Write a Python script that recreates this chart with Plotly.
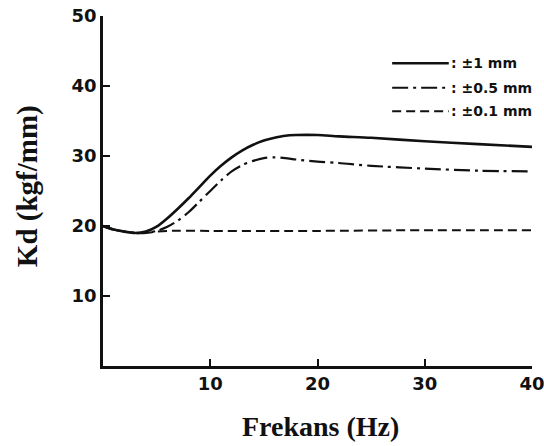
import plotly.graph_objects as go

# Data
freq_1mm = [0, 1, 2, 3, 4, 5, 6, 7, 8, 9, 10, 11, 12, 13, 14, 15, 16, 17, 18, 20, 22, 25, 30, 35, 40]
kd_1mm = [20.0, 19.5, 19.2, 19.0, 19.2, 19.9, 21.1, 22.5, 24.0, 25.6, 27.2, 28.6, 29.8, 30.8, 31.6,
          32.2, 32.6, 32.9, 33.0, 33.0, 32.8, 32.6, 32.1, 31.7, 31.3]

freq_05mm = [0, 1, 2, 3, 4, 5, 6, 7, 8, 9, 10, 11, 12, 13, 14, 15, 16, 17, 18, 20, 22, 25, 30, 35, 40]
kd_05mm = [20.0, 19.5, 19.2, 19.0, 19.0, 19.3, 19.9, 20.8, 22.0, 23.5, 25.0, 26.5, 27.8, 28.7, 29.3,
           29.7, 29.8, 29.7, 29.5, 29.2, 29.0, 28.6, 28.2, 27.9, 27.8]

freq_01mm = [0, 1, 2, 3, 4, 5, 6, 10, 20, 30, 40]
kd_01mm = [20.0, 19.5, 19.2, 19.0, 19.0, 19.2, 19.3, 19.3, 19.3, 19.4, 19.4]

series_names = [": \u00b11 mm", ": \u00b10.5 mm", ": \u00b10.1 mm"]
x_ticks = [10, 20, 30, 40]
y_ticks = [10, 20, 30, 40, 50]

ink = "#111111"
dash_styles = ["solid", "16px,5px,3px,5px", "9px,5px"]
widths = [2.6, 2.2, 2.0]

fig = go.Figure()
for xs, ys, name, dash, w in [
    (freq_01mm, kd_01mm, series_names[2], dash_styles[2], widths[2]),
    (freq_05mm, kd_05mm, series_names[1], dash_styles[1], widths[1]),
    (freq_1mm, kd_1mm, series_names[0], dash_styles[0], widths[0]),
]:
    fig.add_trace(go.Scatter(x=xs, y=ys, mode="lines", name=name,
                             line=dict(color=ink, width=w, dash=dash, shape="spline", smoothing=0.8),
                             showlegend=False))

# Manual legend (lines + text) in the upper right
legend_y = [0.865, 0.795, 0.728]
for i, name in enumerate(series_names):
    fig.add_shape(type="line", xref="paper", yref="paper",
                  x0=0.674, x1=0.806, y0=legend_y[i], y1=legend_y[i],
                  line=dict(color=ink, width=widths[i], dash=dash_styles[i]))
    fig.add_annotation(xref="paper", yref="paper", x=0.806, y=legend_y[i],
                       xanchor="left", yanchor="middle", showarrow=False, text=name,
                       font=dict(family="DejaVu Sans", size=14, color=ink, weight="bold"))

fig.add_annotation(xref="paper", yref="paper", x=0.506, y=-0.174, showarrow=False,
                   xanchor="center", yanchor="middle", text="Frekans (Hz)",
                   font=dict(family="Liberation Serif", size=28, color=ink, weight="bold"))
fig.add_annotation(xref="paper", yref="paper", x=-0.177, y=0.514, showarrow=False,
                   xanchor="center", yanchor="middle", text="Kd (kgf/mm)", textangle=-90,
                   font=dict(family="Liberation Serif", size=29, color=ink, weight="bold"))

axis_common = dict(showline=True, linecolor=ink, linewidth=2.5, ticks="inside", ticklen=7,
                   tickwidth=2, tickcolor=ink, showgrid=False, zeroline=False,
                   ticklabeloverflow="allow", automargin=False,
                   tickfont=dict(family="DejaVu Sans", size=18, color=ink, weight="bold"))
fig.update_xaxes(range=[0, 40], tickvals=x_ticks, **axis_common)
fig.update_yaxes(range=[0, 50], tickvals=y_ticks, **axis_common)

fig.update_layout(width=544, height=446, margin=dict(l=103, r=12, t=16, b=80),
                  paper_bgcolor="white", plot_bgcolor="white")

fig.write_html("out.html")
